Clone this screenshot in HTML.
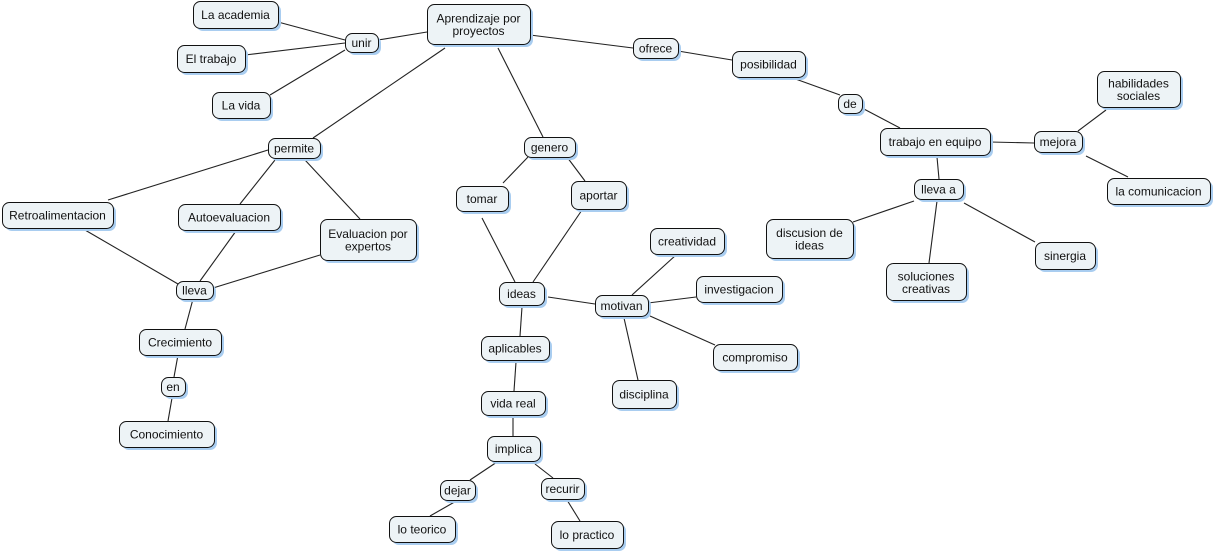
<!DOCTYPE html>
<html><head><meta charset="utf-8"><style>
html,body{margin:0;padding:0;background:#fff;}
svg{display:block;}
text{font-family:"Liberation Sans",sans-serif;font-size:12px;fill:#111;text-anchor:middle;}
.s{fill:#a9cdf0;}
.b{fill:#edf3f6;stroke:#111;stroke-width:1;}
</style></head><body>
<svg width="1216" height="557" viewBox="0 0 1216 557" xmlns="http://www.w3.org/2000/svg">
<g stroke="#222" stroke-width="1.1" fill="none">
<line x1="278" y1="22" x2="345" y2="40"/>
<line x1="245" y1="55" x2="345" y2="43"/>
<line x1="270" y1="95" x2="345" y2="50"/>
<line x1="378" y1="40" x2="427" y2="32"/>
<line x1="530" y1="35" x2="633" y2="48"/>
<line x1="678" y1="51" x2="732" y2="60"/>
<line x1="790" y1="77" x2="840" y2="95"/>
<line x1="862" y1="108" x2="900" y2="128"/>
<line x1="990" y1="142" x2="1034" y2="143"/>
<line x1="1078" y1="131" x2="1106" y2="110"/>
<line x1="1086" y1="156" x2="1128" y2="177"/>
<line x1="937" y1="157" x2="939" y2="179"/>
<line x1="914" y1="201" x2="853" y2="222"/>
<line x1="937" y1="201" x2="929" y2="263"/>
<line x1="964" y1="203" x2="1035" y2="242"/>
<line x1="445" y1="48" x2="313" y2="138"/>
<line x1="268" y1="150" x2="108" y2="200"/>
<line x1="275" y1="160" x2="240" y2="204"/>
<line x1="305" y1="160" x2="360" y2="219"/>
<line x1="85" y1="230" x2="178" y2="284"/>
<line x1="236" y1="231" x2="200" y2="281"/>
<line x1="320" y1="255" x2="213" y2="288"/>
<line x1="193" y1="299" x2="185" y2="329"/>
<line x1="178" y1="355" x2="174" y2="377"/>
<line x1="172" y1="398" x2="168" y2="421"/>
<line x1="498" y1="48" x2="543" y2="137"/>
<line x1="528" y1="157" x2="503" y2="183"/>
<line x1="567" y1="157" x2="585" y2="181"/>
<line x1="482" y1="218" x2="515" y2="282"/>
<line x1="582" y1="210" x2="533" y2="282"/>
<line x1="548" y1="297" x2="595" y2="304"/>
<line x1="632" y1="295" x2="676" y2="255"/>
<line x1="648" y1="303" x2="696" y2="297"/>
<line x1="650" y1="316" x2="715" y2="345"/>
<line x1="624" y1="318" x2="638" y2="380"/>
<line x1="522" y1="307" x2="520" y2="336"/>
<line x1="516" y1="362" x2="514" y2="391"/>
<line x1="513" y1="417" x2="513" y2="436"/>
<line x1="497" y1="462" x2="470" y2="480"/>
<line x1="535" y1="464" x2="553" y2="478"/>
<line x1="458" y1="500" x2="430" y2="516"/>
<line x1="567" y1="500" x2="580" y2="521"/>
</g>

<rect class="s" x="430" y="7" width="103" height="40" rx="7"/><rect class="b" x="427.5" y="4.5" width="103" height="40" rx="7"/><text x="478.5" y="22.5">Aprendizaje por</text><text x="478.5" y="35">proyectos</text>
<rect class="s" x="196" y="4" width="85" height="27" rx="7"/><rect class="b" x="193.5" y="1.5" width="85" height="27" rx="7"/><text x="235.5" y="19">La academia</text>
<rect class="s" x="348" y="36" width="33" height="19" rx="7"/><rect class="b" x="345.5" y="33.5" width="33" height="19" rx="7"/><text x="361.5" y="47">unir</text>
<rect class="s" x="180" y="48" width="68" height="27" rx="7"/><rect class="b" x="177.5" y="45.5" width="68" height="27" rx="7"/><text x="211" y="63">El trabajo</text>
<rect class="s" x="215" y="95" width="58" height="26" rx="7"/><rect class="b" x="212.5" y="92.5" width="58" height="26" rx="7"/><text x="241" y="109.5">La vida</text>
<rect class="s" x="636" y="41" width="45" height="20" rx="7"/><rect class="b" x="633.5" y="38.5" width="45" height="20" rx="7"/><text x="655.5" y="52.5">ofrece</text>
<rect class="s" x="735" y="54" width="73" height="26" rx="7"/><rect class="b" x="732.5" y="51.5" width="73" height="26" rx="7"/><text x="768.5" y="68.5">posibilidad</text>
<rect class="s" x="841" y="97" width="24" height="19" rx="7"/><rect class="b" x="838.5" y="94.5" width="24" height="19" rx="7"/><text x="850" y="108">de</text>
<rect class="s" x="883" y="131" width="110" height="27" rx="7"/><rect class="b" x="880.5" y="128.5" width="110" height="27" rx="7"/><text x="935" y="146">trabajo en equipo</text>
<rect class="s" x="1037" y="134" width="48" height="21" rx="7"/><rect class="b" x="1034.5" y="131.5" width="48" height="21" rx="7"/><text x="1058" y="146">mejora</text>
<rect class="s" x="1100" y="74" width="83" height="36" rx="7"/><rect class="b" x="1097.5" y="71.5" width="83" height="36" rx="7"/><text x="1138.5" y="87.5">habilidades</text><text x="1138.5" y="100">sociales</text>
<rect class="s" x="1110" y="181" width="103" height="26" rx="7"/><rect class="b" x="1107.5" y="178.5" width="103" height="26" rx="7"/><text x="1158.5" y="195.5">la comunicacion</text>
<rect class="s" x="917" y="182" width="49" height="20" rx="7"/><rect class="b" x="914.5" y="179.5" width="49" height="20" rx="7"/><text x="938.5" y="193.5">lleva a</text>
<rect class="s" x="769" y="222" width="87" height="39" rx="7"/><rect class="b" x="766.5" y="219.5" width="87" height="39" rx="7"/><text x="809.5" y="237">discusion de</text><text x="809.5" y="249.5">ideas</text>
<rect class="s" x="889" y="266" width="80" height="37" rx="7"/><rect class="b" x="886.5" y="263.5" width="80" height="37" rx="7"/><text x="926" y="280.5">soluciones</text><text x="926" y="293">creativas</text>
<rect class="s" x="1038" y="245" width="60" height="27" rx="7"/><rect class="b" x="1035.5" y="242.5" width="60" height="27" rx="7"/><text x="1065" y="260">sinergia</text>
<rect class="s" x="271" y="141" width="52" height="20" rx="7"/><rect class="b" x="268.5" y="138.5" width="52" height="20" rx="7"/><text x="294" y="152.5">permite</text>
<rect class="s" x="5" y="205" width="111" height="26" rx="7"/><rect class="b" x="2.5" y="202.5" width="111" height="26" rx="7"/><text x="57.5" y="219.5">Retroalimentacion</text>
<rect class="s" x="181" y="207" width="102" height="26" rx="7"/><rect class="b" x="178.5" y="204.5" width="102" height="26" rx="7"/><text x="229" y="221.5">Autoevaluacion</text>
<rect class="s" x="323" y="222" width="96" height="41" rx="7"/><rect class="b" x="320.5" y="219.5" width="96" height="41" rx="7"/><text x="368" y="238">Evaluacion por</text><text x="368" y="250.5">expertos</text>
<rect class="s" x="179" y="284" width="37" height="18" rx="7"/><rect class="b" x="176.5" y="281.5" width="37" height="18" rx="7"/><text x="194.5" y="294.5">lleva</text>
<rect class="s" x="142" y="332" width="82" height="26" rx="7"/><rect class="b" x="139.5" y="329.5" width="82" height="26" rx="7"/><text x="180" y="346.5">Crecimiento</text>
<rect class="s" x="164" y="380" width="24" height="19" rx="7"/><rect class="b" x="161.5" y="377.5" width="24" height="19" rx="7"/><text x="173" y="391">en</text>
<rect class="s" x="122" y="424" width="95" height="26" rx="7"/><rect class="b" x="119.5" y="421.5" width="95" height="26" rx="7"/><text x="166.5" y="438.5">Conocimiento</text>
<rect class="s" x="527" y="140" width="51" height="20" rx="7"/><rect class="b" x="524.5" y="137.5" width="51" height="20" rx="7"/><text x="549.5" y="151.5">genero</text>
<rect class="s" x="459" y="189" width="52" height="25" rx="7"/><rect class="b" x="456.5" y="186.5" width="52" height="25" rx="7"/><text x="482" y="203">tomar</text>
<rect class="s" x="574" y="184" width="55" height="28" rx="7"/><rect class="b" x="571.5" y="181.5" width="55" height="28" rx="7"/><text x="598.5" y="199.5">aportar</text>
<rect class="s" x="502" y="285" width="45" height="23" rx="7"/><rect class="b" x="499.5" y="282.5" width="45" height="23" rx="7"/><text x="521.5" y="298">ideas</text>
<rect class="s" x="598" y="298" width="53" height="21" rx="7"/><rect class="b" x="595.5" y="295.5" width="53" height="21" rx="7"/><text x="621.5" y="310">motivan</text>
<rect class="s" x="653" y="231" width="74" height="26" rx="7"/><rect class="b" x="650.5" y="228.5" width="74" height="26" rx="7"/><text x="687" y="245.5">creatividad</text>
<rect class="s" x="699" y="279" width="86" height="26" rx="7"/><rect class="b" x="696.5" y="276.5" width="86" height="26" rx="7"/><text x="739" y="293.5">investigacion</text>
<rect class="s" x="716" y="347" width="84" height="26" rx="7"/><rect class="b" x="713.5" y="344.5" width="84" height="26" rx="7"/><text x="755" y="361.5">compromiso</text>
<rect class="s" x="615" y="383" width="64" height="28" rx="7"/><rect class="b" x="612.5" y="380.5" width="64" height="28" rx="7"/><text x="644" y="398.5">disciplina</text>
<rect class="s" x="484" y="339" width="68" height="24" rx="7"/><rect class="b" x="481.5" y="336.5" width="68" height="24" rx="7"/><text x="515" y="352.5">aplicables</text>
<rect class="s" x="484" y="394" width="64" height="24" rx="7"/><rect class="b" x="481.5" y="391.5" width="64" height="24" rx="7"/><text x="513" y="407.5">vida real</text>
<rect class="s" x="490" y="439" width="53" height="25" rx="7"/><rect class="b" x="487.5" y="436.5" width="53" height="25" rx="7"/><text x="513.5" y="453">implica</text>
<rect class="s" x="443" y="483" width="35" height="20" rx="7"/><rect class="b" x="440.5" y="480.5" width="35" height="20" rx="7"/><text x="457.5" y="494.5">dejar</text>
<rect class="s" x="544" y="481" width="43" height="21" rx="7"/><rect class="b" x="541.5" y="478.5" width="43" height="21" rx="7"/><text x="562.5" y="493">recurir</text>
<rect class="s" x="392" y="519" width="66" height="26" rx="7"/><rect class="b" x="389.5" y="516.5" width="66" height="26" rx="7"/><text x="422" y="533.5">lo teorico</text>
<rect class="s" x="554" y="524" width="72" height="27" rx="7"/><rect class="b" x="551.5" y="521.5" width="72" height="27" rx="7"/><text x="587" y="539">lo practico</text>
</svg>
</body></html>
